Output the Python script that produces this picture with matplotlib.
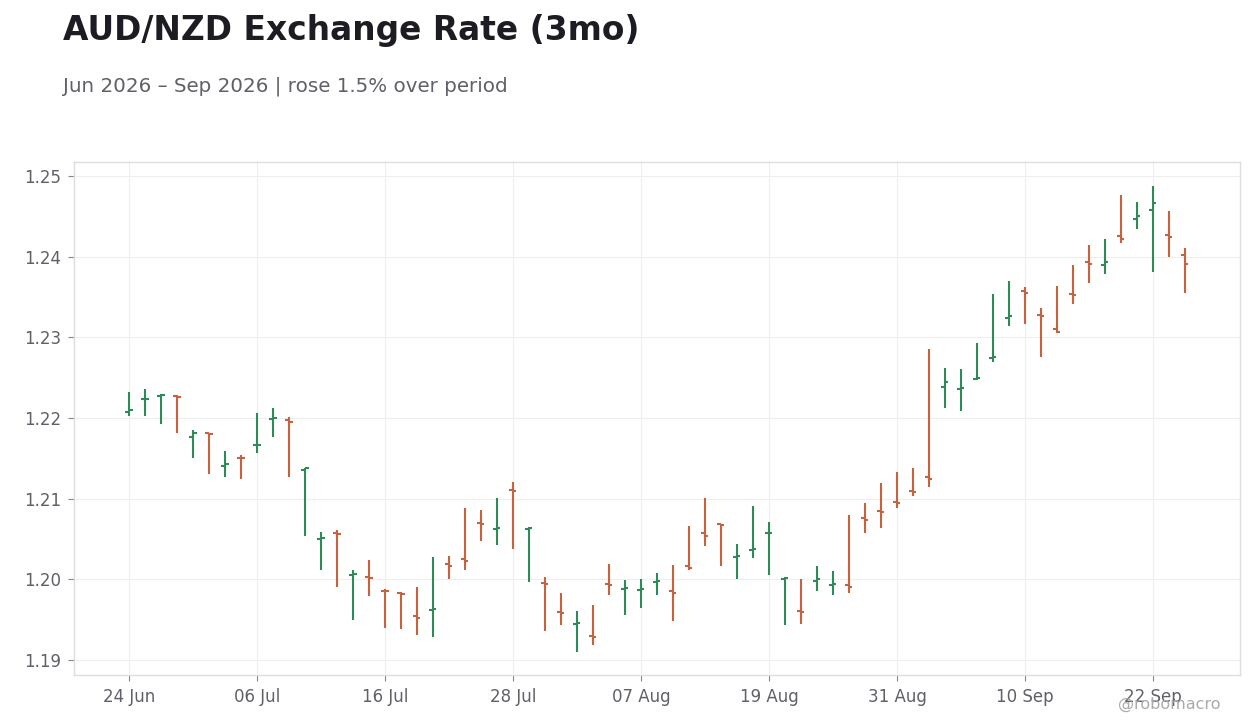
import numpy as np
import pandas as pd
import matplotlib
matplotlib.use("Agg")
import matplotlib.pyplot as plt

# daily OHLC, business days from 24 Jun 2026
opens = [1.2208, 1.2223, 1.2227, 1.2227, 1.2177, 1.2181, 1.2141, 1.2151, 1.2166, 1.2199,
         1.2198, 1.2136, 1.2050, 1.2057, 1.2005, 1.2003, 1.1986, 1.1983, 1.1954, 1.1962,
         1.2019, 1.2025, 1.2070, 1.2062, 1.2111, 1.2062, 1.1995, 1.1960, 1.1945, 1.1930,
         1.1994, 1.1988, 1.1987, 1.1997, 1.1985, 1.2016, 1.2057, 1.2068, 1.2028, 1.2036,
         1.2058, 1.2000, 1.1961, 1.1998, 1.1993, 1.1993, 1.2076, 1.2085, 1.2096, 1.2110,
         1.2127, 1.2239, 1.2236, 1.2248, 1.2275, 1.2324, 1.2358, 1.2328, 1.2310, 1.2354,
         1.2393, 1.2390, 1.2426, 1.2447, 1.2458, 1.2427, 1.2402]
highs = [1.2232, 1.2236, 1.2230, 1.2228, 1.2185, 1.2182, 1.2159, 1.2154, 1.2206, 1.2212,
         1.2201, 1.2138, 1.2059, 1.2061, 1.2012, 1.2024, 1.1988, 1.1984, 1.1990, 1.2028,
         1.2029, 1.2088, 1.2086, 1.2101, 1.2121, 1.2065, 1.2003, 1.1983, 1.1961, 1.1968,
         1.2019, 1.1999, 1.2000, 1.2008, 1.2018, 1.2066, 1.2101, 1.2069, 1.2044, 1.2091,
         1.2071, 1.2003, 1.2000, 1.2017, 1.2010, 1.2080, 1.2095, 1.2119, 1.2133, 1.2138,
         1.2286, 1.2262, 1.2261, 1.2293, 1.2354, 1.2370, 1.2362, 1.2336, 1.2364, 1.2390,
         1.2415, 1.2422, 1.2476, 1.2468, 1.2488, 1.2457, 1.2411]
lows = [1.2203, 1.2202, 1.2193, 1.2182, 1.2151, 1.2131, 1.2127, 1.2124, 1.2156, 1.2176,
        1.2127, 1.2054, 1.2011, 1.1991, 1.1950, 1.1979, 1.1940, 1.1939, 1.1931, 1.1929,
        1.2001, 1.2011, 1.2048, 1.2043, 1.2037, 1.1997, 1.1936, 1.1944, 1.1910, 1.1919,
        1.1980, 1.1956, 1.1965, 1.1980, 1.1948, 1.2011, 1.2041, 1.2017, 1.2000, 1.2026,
        1.2005, 1.1944, 1.1945, 1.1985, 1.1981, 1.1983, 1.2058, 1.2064, 1.2089, 1.2103,
        1.2114, 1.2213, 1.2209, 1.2247, 1.2270, 1.2314, 1.2316, 1.2276, 1.2306, 1.2341,
        1.2367, 1.2379, 1.2417, 1.2434, 1.2381, 1.2400, 1.2355]
closes = [1.2210, 1.2224, 1.2229, 1.2226, 1.2181, 1.2180, 1.2143, 1.2150, 1.2167, 1.2200,
          1.2195, 1.2138, 1.2051, 1.2056, 1.2006, 1.2002, 1.1985, 1.1982, 1.1952, 1.1963,
          1.2017, 1.2023, 1.2068, 1.2064, 1.2110, 1.2064, 1.1994, 1.1958, 1.1946, 1.1929,
          1.1993, 1.1989, 1.1988, 1.1998, 1.1983, 1.2014, 1.2054, 1.2067, 1.2029, 1.2038,
          1.2058, 1.2002, 1.1959, 1.2000, 1.1994, 1.1991, 1.2074, 1.2084, 1.2095, 1.2108,
          1.2125, 1.2245, 1.2237, 1.2250, 1.2276, 1.2326, 1.2355, 1.2327, 1.2307, 1.2353,
          1.2391, 1.2394, 1.2422, 1.2450, 1.2466, 1.2425, 1.2391]

dates = pd.bdate_range("2026-06-24", periods=len(opens))

up_color = "#2e8b57"
down_color = "#c8613f"

fig = plt.figure(figsize=(12.6, 7.28), dpi=100)
ax = fig.add_axes([0.0587, 0.0728, 0.9254, 0.7047])

x = np.arange(len(opens))
o = np.array(opens)
c = np.array(closes)
colors = [up_color if cc >= oo else down_color for oo, cc in zip(o, c)]
w = 0.22

ax.vlines(x, lows, highs, colors=colors, linewidth=1.5, zorder=3)
ax.hlines(o, x - w, x, colors=colors, linewidth=1.5, zorder=3)
ax.hlines(c, x, x + w, colors=colors, linewidth=1.5, zorder=3)

ax.set_xlim(-3.44, len(opens) - 1 + 3.44)
ax.set_ylim(1.18814, 1.25174)

ticks = x[::8]
ax.set_xticks(ticks)
ax.set_xticklabels([dates[i].strftime("%d %b") for i in ticks])
ax.set_yticks([1.19, 1.20, 1.21, 1.22, 1.23, 1.24, 1.25])
ax.yaxis.set_major_formatter(matplotlib.ticker.FormatStrFormatter("%.2f"))

ax.grid(True, color="#eeeeee", linewidth=0.8, zorder=0)
ax.set_axisbelow(True)
for s in ax.spines.values():
    s.set_color("#dddddd")
    s.set_linewidth(1.0)
ax.tick_params(axis="both", colors="#888888", labelcolor="#5f6068",
               labelsize=12, length=4, width=0.8, pad=5)

fig.text(0.05, 0.945, "AUD/NZD Exchange Rate (3mo)", fontsize=23.7, fontweight="bold",
         color="#1c1c22", ha="left", va="baseline")
fig.text(0.05, 0.874, "Jun 2026 \u2013 Sep 2026 | rose 1.5% over period", fontsize=14.3,
         color="#5f6068", ha="left", va="baseline")
fig.text(0.969, 0.032, "@robomacro", fontsize=11.5, color="#aaaaaa", ha="right",
         va="center")

fig.savefig("out.png", dpi=100)
